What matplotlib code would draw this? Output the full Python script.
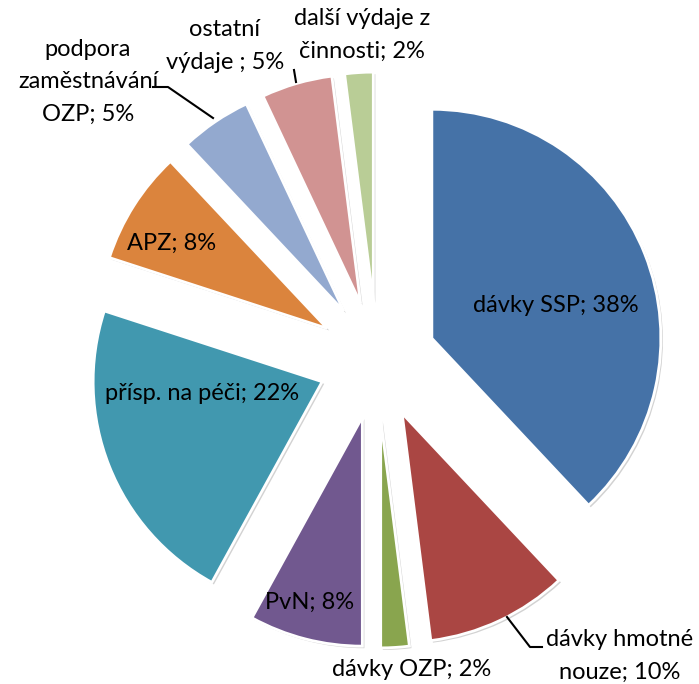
import matplotlib.pyplot as plt
import matplotlib.patheffects as pe

# data, clockwise from 12 o'clock
categories = ["dávky SSP", "dávky hmotné nouze", "dávky OZP", "PvN", "přísp. na péči",
              "APZ", "podpora zaměstnávání OZP", "ostatní výdaje ", "další výdaje z činnosti"]
shares = [38, 10, 2, 8, 22, 8, 5, 5, 2]
label_texts = ["dávky SSP; 38%", "dávky hmotné\nnouze; 10%", "dávky OZP; 2%", "PvN; 8%",
               "přísp. na péči; 22%", "APZ; 8%", "podpora\nzaměstnávání\nOZP; 5%",
               "ostatní\nvýdaje ; 5%", "další výdaje z\nčinnosti; 2%"]
colors = ["#4572A7", "#AA4643", "#89A54E", "#71588F", "#4198AF",
          "#DB843D", "#93A9CF", "#D19392", "#B9CD96"]

W, H = 699, 684
fig = plt.figure(figsize=(W / 100, H / 100), dpi=100)
ax = fig.add_axes([0, 0, 1, 1])
ax.axis("off")

center = (377, H - 360)
radius = 229
# explode is given in data units (pixels here)
wedges, _ = ax.pie(shares, colors=colors, startangle=90, counterclock=False,
                   explode=[59] * len(shares), center=center, radius=radius,
                   wedgeprops=dict(edgecolor="white", linewidth=2))
for w in wedges:
    w.set_path_effects([pe.SimplePatchShadow(offset=(1.5, -1.5), shadow_rgbFace="gray", alpha=0.35),
                        pe.Normal()])
ax.set_xlim(0, W)
ax.set_ylim(0, H)
ax.set_aspect("equal")

# label positions in pixels (x, y from top), leader lines where present
label_pos = [(556, 305), (620, 656), (412, 670), (310, 602), (202, 393),
             (172, 243), (88, 82), (225, 46), (362, 35)]
leaders = {1: [(507, 617), (530, 647), (542, 647)],
           6: [(153, 87), (168, 87), (213, 118)],
           7: [(294, 70), (296, 82)]}

font = dict(family=["Lato", "DejaVu Sans"], fontsize=17, color="black")
for txt, (x, y) in zip(label_texts, label_pos):
    ax.text(x, H - y, txt, ha="center", va="center", linespacing=1.65, **font)
for pts in leaders.values():
    ax.plot([p[0] for p in pts], [H - p[1] for p in pts], color="black", lw=1.5)

fig.savefig("out.png", dpi=100)
